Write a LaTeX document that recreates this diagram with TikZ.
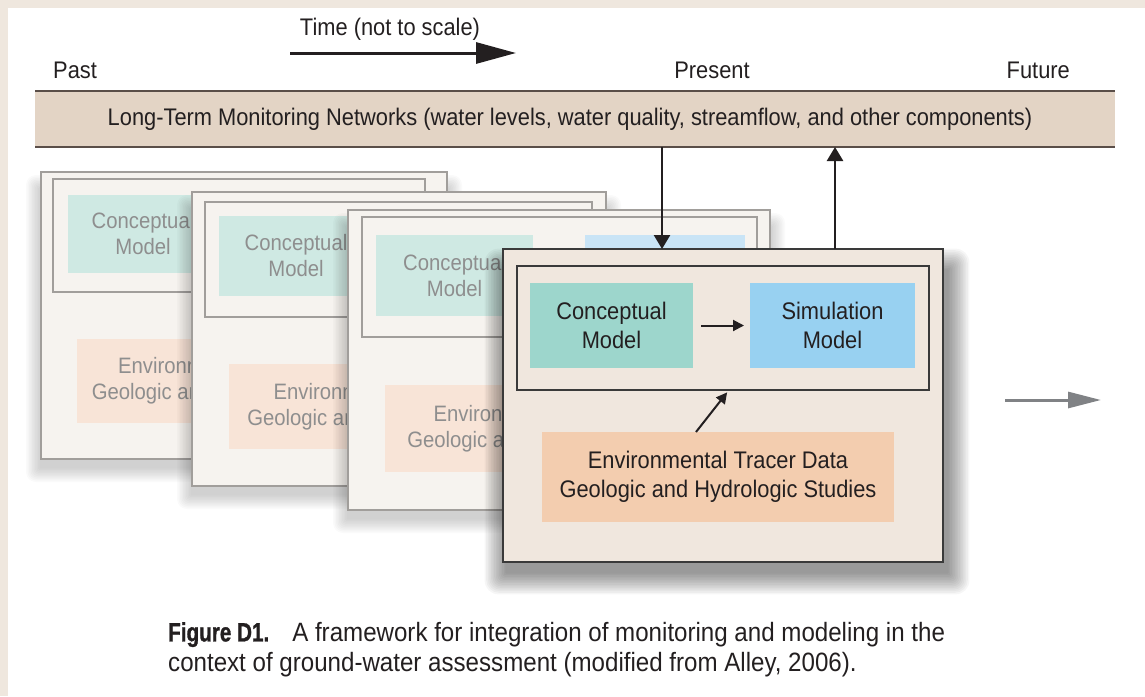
\documentclass[tikz,border=0pt]{standalone}
\usepackage{fontspec}
\setmainfont[FakeStretch=0.91]{Liberation Sans}
\newfontfamily\capbold[FakeStretch=0.78, BoldFeatures={FakeBold=1}]{Liberation Sans}
\usepackage{xcolor}
\usepackage{tikz}
\usetikzlibrary{arrows.meta, positioning}

\definecolor{pagetan}{HTML}{EFE7DE}
\definecolor{bannertan}{HTML}{E3D4C5}
\definecolor{bannerline}{HTML}{5A4E48}
\definecolor{ink}{HTML}{231F20}
\definecolor{fadepanel}{HTML}{F6F3EF}
\definecolor{fadeline}{HTML}{A19E9B}
\definecolor{fadetext}{HTML}{8E8E8E}
\definecolor{fadecm}{HTML}{CFE9E3}
\definecolor{fadesm}{HTML}{C9E4F6}
\definecolor{fadeenv}{HTML}{F8E4D7}
\definecolor{frontpanel}{HTML}{F0E7DE}
\definecolor{frontline}{HTML}{3A3A3A}
\definecolor{cmfill}{HTML}{9DD6CC}
\definecolor{smfill}{HTML}{98D1F1}
\definecolor{envfill}{HTML}{F3CDAF}
\definecolor{grayarrow}{HTML}{808285}

\begin{document}
\begin{tikzpicture}[x=1pt, y=-1pt,
            box/.style={anchor=north west, inner sep=0pt, outer sep=0pt, align=center},
            panelf/.style={box, fill=fadepanel, draw=fadeline, line width=1.2pt},
            framef/.style={box, draw=fadeline, line width=1.2pt},
            txtf/.style={box, text=fadetext, font=\fontsize{22.3}{26}\selectfont},
            front/.style={box, fill=frontpanel, draw=frontline, line width=1.5pt},
            frame/.style={box, draw=frontline, line width=1.3pt},
            txt/.style={box, text=ink, font=\fontsize{24}{29}\selectfont},
            label/.style={text=ink, inner sep=0pt, font=\fontsize{24}{26}\selectfont},
            haze/.style={fill=black, opacity=0.02},
            shade/.style={fill=black, opacity=0.035},
            flow/.style={-{Triangle[length=14pt, width=16pt]}, line width=2.5pt, draw=ink},
            small flow/.style={-{Triangle[length=11pt, width=11pt]}, line width=2pt, draw=ink}
        ]

        \useasboundingbox (0,0) rectangle (1145,696);
        \fill[pagetan] (0,0) rectangle (1145,8);
        \fill[pagetan] (0,0) rectangle (8,696);

        % Time axis
        \node[label, anchor=base] (time) at (390,35) {Time (not to scale)};
        \coordinate (t0) at (290,53);
        \coordinate (t1) at (516,53);
        \draw[-{Triangle[length=40pt, width=21pt]}, line width=3pt, draw=ink] (t0) -- (t1);

        \node[label, anchor=base west] (past) at (53,78) {Past};
        \node[label, anchor=base] (present) at (712,78) {Present};
        \node[label, anchor=base east] (future) at (1070,78) {Future};

        % Monitoring banner
        \node[box, fill=bannertan, minimum width=1080, minimum height=56, text=ink,
              font=\fontsize{24}{26}\selectfont] (net) at (35,91)
              {\hspace*{-10pt}Long-Term Monitoring Networks (water levels, water quality, streamflow, and other components)};
        \draw[bannerline, line width=1.5pt] (net.north west) -- (net.north east);
        \draw[bannerline, line width=1.5pt] (net.south west) -- (net.south east);

        % Earlier assessments (faded)
        \foreach \s in {1,...,10}
          \fill[haze, rounded corners=\s pt] ({41-1.5*\s},{190-1.5*\s}) rectangle ({447+1.5*\s},{459+8+1.5*\s});
        \node[panelf, minimum width=406, minimum height=287] (p1) at (41,172) {};
        \node[framef, minimum width=372, minimum height=113] (f1) at (53,179) {};
        \node[txtf, fill=fadecm, minimum width=150, minimum height=78] (cm1) at (68,195) {Conceptual\\Model};
        \node[txtf, fill=fadesm, minimum width=146, minimum height=78] (sm1) at (266,195) {Simulation\\Model};
        \node[txtf, fill=fadeenv, minimum width=324, minimum height=84] (env1) at (77,339) {Environmental Tracer Data\\Geologic and Hydrologic Studies};

        \foreach \s in {1,...,10}
          \fill[haze, rounded corners=\s pt] ({192-1.5*\s},{210-1.5*\s}) rectangle ({606+1.5*\s},{486+8+1.5*\s});
        \node[panelf, minimum width=414, minimum height=294] (p2) at (192,192) {};
        \node[framef, minimum width=387, minimum height=115] (f2) at (205,202) {};
        \node[txtf, fill=fadecm, minimum width=154, minimum height=80] (cm2) at (219,216) {Conceptual\\Model};
        \node[txtf, fill=fadesm, minimum width=154, minimum height=80] (sm2) at (426,216) {Simulation\\Model};
        \node[txtf, fill=fadeenv, minimum width=331, minimum height=85] (env2) at (229,364) {Environmental Tracer Data\\Geologic and Hydrologic Studies};

        \foreach \s in {1,...,10}
          \fill[haze, rounded corners=\s pt] ({348-1.5*\s},{228-1.5*\s}) rectangle ({770+1.5*\s},{510+8+1.5*\s});
        \node[panelf, minimum width=422, minimum height=300] (p3) at (348,210) {};
        \node[framef, minimum width=395, minimum height=120] (f3) at (362,217) {};
        \node[txtf, fill=fadecm, minimum width=157, minimum height=81] (cm3) at (376,235) {Conceptual\\Model};
        \node[txtf, fill=fadesm, minimum width=160, minimum height=81] (sm3) at (585,235) {Simulation\\Model};
        \node[txtf, fill=fadeenv, minimum width=339, minimum height=87] (env3) at (385,385) {Environmental Tracer Data\\Geologic and Hydrologic Studies};

        % Present assessment
        \foreach \s in {1,...,14}
          \fill[shade, rounded corners=\s pt] ({503+4-1.6*\s},{249+22-1.6*\s}) rectangle ({943+4+1.6*\s},{562+10+1.6*\s});
        \node[front, minimum width=440, minimum height=313] (p4) at (503,249) {};
        \node[frame, minimum width=412, minimum height=124] (f4) at (517,266) {};
        \node[txt, fill=cmfill, minimum width=163, minimum height=85] (cm) at (530,283) {Conceptual\\Model};
        \node[txt, fill=smfill, minimum width=165, minimum height=85] (sm) at (750,283) {Simulation\\Model};
        \node[txt, fill=envfill, minimum width=352, minimum height=90] (env) at (542,432) {Environmental Tracer Data\\Geologic and Hydrologic Studies};

        % Links
        \draw[flow] ([xshift=-61pt]p4.north |- net.south) -- ([xshift=-61pt]p4.north);
        \draw[flow] ([xshift=112pt]p4.north) -- ([xshift=112pt]p4.north |- net.south);
        \draw[small flow, shorten <=8pt, shorten >=6pt] (cm.east) -- (sm.west);
        \draw[small flow, shorten >=3pt] ([xshift=-22pt]env.north) -- ([xshift=6pt]f4.south);

        % Toward the future
        \coordinate (g0) at (1005,400);
        \coordinate (g1) at (1101,400);
        \draw[-{Triangle[length=33pt, width=16pt]}, line width=3pt, draw=grayarrow] (g0) -- (g1);

        % Caption
        \node[label, anchor=north west, align=left, font=\fontsize{26.5}{30}\selectfont] (caption) at (168,622)
              {{\capbold\bfseries Figure D1.}\hspace{23pt}A framework for integration of monitoring and modeling in the\\
               context of ground-water assessment (modified from Alley, 2006).};

        \end{tikzpicture}
\end{document}
